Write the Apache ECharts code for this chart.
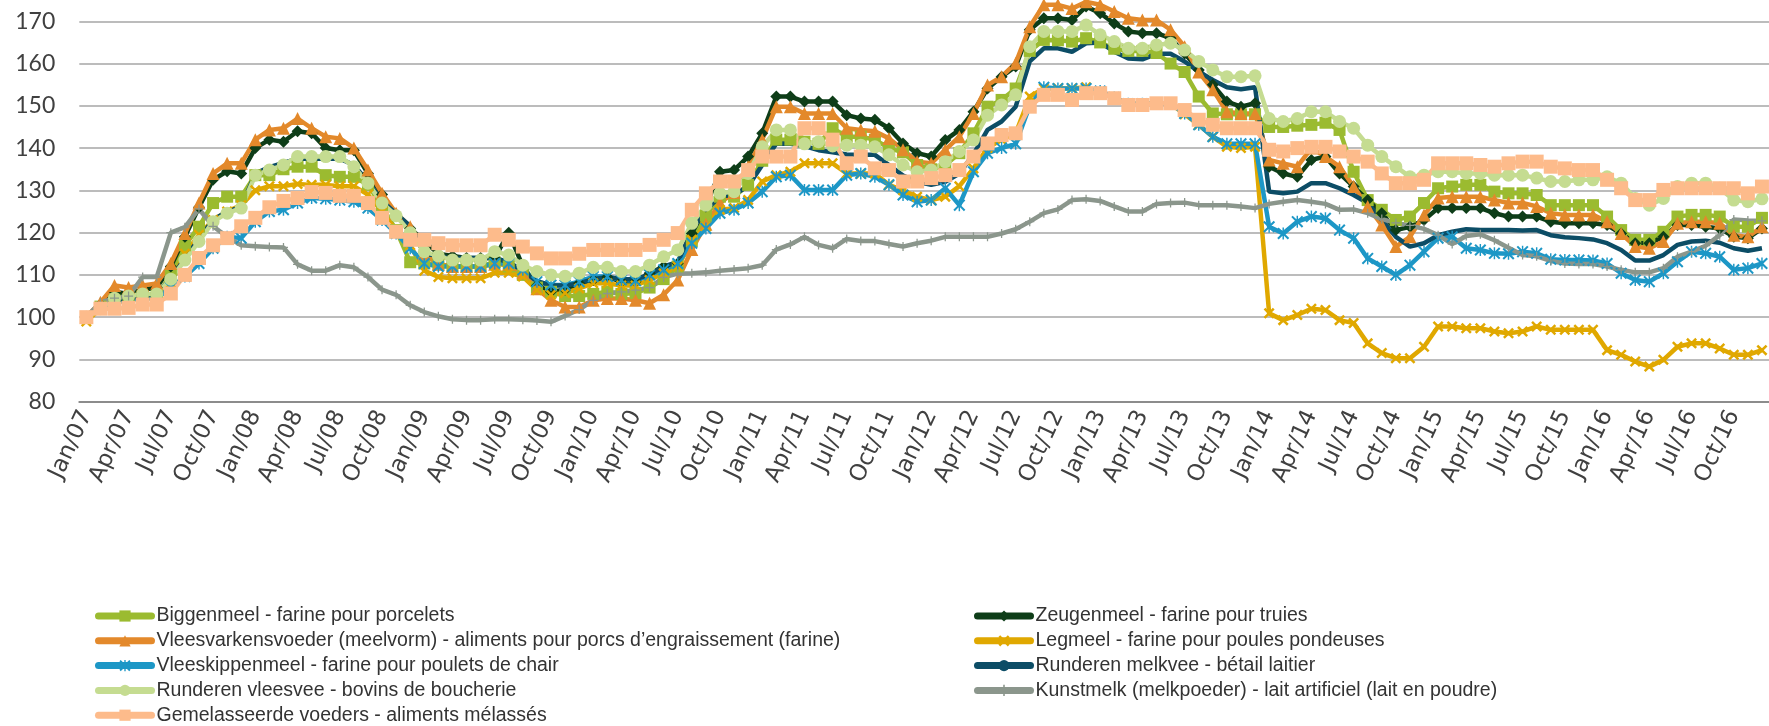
<!DOCTYPE html>
<html>
<head>
<meta charset="utf-8">
<script src="https://cdn.jsdelivr.net/npm/echarts@6/dist/echarts.min.js"></script>
<style>
  html, body { margin: 0; padding: 0; background: #fff; }
  #chart { width: 1769px; height: 726px; }
</style>
</head>
<body>
<div id="chart"></div>
<script>
// monthly categories Jan/07 .. Dec/16
var monthNames = ['Jan','Feb','Mar','Apr','May','Jun','Jul','Aug','Sep','Oct','Nov','Dec'];
var years = ['07','08','09','10','11','12','13','14','15','16'];
var categories = [];
years.forEach(function (y) {
    monthNames.forEach(function (m) { categories.push(m + '/' + y); });
});

var names = [
    'Biggenmeel - farine pour porcelets',
    'Zeugenmeel - farine pour truies',
    'Vleesvarkensvoeder (meelvorm) - aliments pour porcs d\u2019engraissement (farine)',
    'Legmeel - farine pour poules pondeuses',
    'Vleeskippenmeel - farine pour poulets de chair',
    'Runderen melkvee - bétail laitier',
    'Runderen vleesvee - bovins de boucherie',
    'Kunstmelk (melkpoeder) - lait artificiel (lait en poudre)',
    'Gemelasseerde voeders - aliments mélassés'
];

var biggenmeel = [100,102.5,104,104,105,105,110,117,121.4,127,128.5,128.5,
    133.6,133.6,135,135.6,135.6,133.6,133.2,133.2,131.3,126.2,120.6,113,
    112.7,112.5,112,112,112,113,112,110,107,106,105,105,
    105.5,106,105.5,105.7,107,109,112,118,124,128.5,128.5,131.3,
    137,142,142,141.5,141,144.7,142.7,142.7,142,140,139,136,
    135,136,138.8,143.5,149.8,151.4,154.1,163,165.6,165.5,165.2,166,
    165,163.5,163,163,162.5,160,158,152.2,148.2,148,148,148,
    145,145,145.3,145.5,146,144.3,134.4,127.7,125.4,123,123.8,127,
    130.5,130.9,131.3,131.3,129.7,129.3,129.3,128.9,126.5,126.5,126.5,126.5,
    123.8,120.6,118.3,118.3,120.2,123.8,124.2,124.2,123.8,121.4,121.4,123.5];

var zeugenmeel = [100,103,106,105.5,106.5,107,112,119,126,132.5,134.5,134,
    140,142,141.5,144,143.5,140,139.5,139.5,134,129,124,121,
    118,115,114.5,114,114,114,120,112,107.5,106,106.5,108,
    108.8,109.5,108.4,108.4,110.4,112,112.7,119.8,126.2,134.4,134.8,138,
    143.5,152.2,152.2,151,151,151,147.8,147,146.7,144.7,141.1,138.8,
    138,141.9,144.3,148.6,154.1,156.9,159.3,168,170.7,170.7,170.3,173.5,
    171.9,169.5,167.6,167.2,167.2,166,162.4,158.5,155,151,149.8,150.6,
    135.6,134,133.2,137.2,138,134,130.9,127.7,124.6,120.6,121.4,123,
    125.8,125.8,125.8,125.8,124.6,123.8,123.8,123.8,122.6,122.2,122.2,122.2,
    121.8,119.8,117.5,117.5,119,121.8,121.8,121.4,121,119,118.7,121];

var vleesvarkens = [100,103.5,107.5,107,107.5,108,112.7,119.8,127,134,136.4,136.4,
    142,144.3,144.7,147,144.7,142.7,142.3,140,134.8,129.3,124.6,121.4,
    115,112.5,112,112,112,112.5,112.5,110.5,106.7,104,102.4,102.4,
    104,104.4,104.4,104,103.3,105.3,108.8,116,122,127,129.5,135.6,
    142,149.8,149.8,148.2,148.2,148.2,144.7,144.3,144,142.3,139.6,136.8,
    136.4,139.6,142.7,148.2,154.9,156.9,160.1,168.7,173.9,173.9,173,174.6,
    173.9,172.3,170.7,170.3,170.3,168,164,158,153.8,148.6,148.2,148.2,
    137.2,136.4,135.6,140,138,135.6,130.9,126.2,121.8,116.7,119,124.2,
    128.2,128.5,128.5,128.5,127.7,127,127,126.2,124.6,124.2,124.2,124.2,
    122.6,119.8,116.7,116.3,117.9,122.2,122.6,122.6,122.2,119.4,119,121.4];

var legmeel = [99,102,103.5,104,104.5,104.5,108,115,119.5,123,125,126.5,
    130,131,131,131.5,131.3,131.3,131,131,129,125,120.5,117,
    111,109.5,109.2,109.2,109.2,110.5,110.5,109.6,106.4,105.3,105.7,106.8,
    108,108,107.5,107.5,108.8,110.4,112,118.3,121.4,125.4,125.8,127.7,
    132.1,133.6,134.4,136.4,136.4,136.4,134,134,134,131.3,130,128.5,
    127.7,128.5,131,135.2,140,142,143.5,152.2,154.1,154.1,154.1,154.4,
    153,152,150.5,150.5,150.5,150.5,148,145.5,142.7,140.3,140,140.3,
    100.9,99.3,100.5,102,101.7,99.3,98.6,93.8,91.5,90.3,90.3,93,
    97.8,97.8,97.4,97.4,96.6,96.2,96.6,97.8,97,97,97,97,
    92.2,91.1,89.5,88.3,89.9,93,93.8,93.8,92.6,91.1,91.1,92.2];

var vleeskippen = [100,102,103.5,104,104.5,104.5,107,109.6,112.7,116.3,119,118.7,
    122.6,125,125.4,127,128.2,128,127.7,127.3,125.8,123,119.8,116.3,
    112.7,112,112,112,112,112.7,112.7,111.2,108.4,107.6,107.6,108.4,
    109.6,109.6,108.8,108.6,110,111.2,112.7,117.5,121,124.6,125.4,127,
    129.7,133.2,133.6,130.1,130.1,130.1,133.6,134,133.2,131.3,128.9,127.3,
    127.7,130.5,126.5,134.4,138.8,140,141,150,154.4,154.1,154.1,154.1,
    153.5,152,150.5,150.5,150.5,150.5,148.2,145.5,142.7,141,141,141,
    121.4,119.8,122.6,123.8,123.4,120.6,118.7,113.9,112,110,112.3,115.5,
    118.7,119,116.3,115.9,115.1,115,115.5,115.1,113.7,113.5,113.5,113.4,
    112.7,110.4,108.8,108.4,110.4,113.1,115.5,115.1,114.3,111.2,111.6,112.7];

var melkvee = [100,102.5,104,104.5,105,105.5,109,114,118.5,123,125,126,
    134,135.5,136.5,137.5,137.5,137.5,137.5,136,132,127.5,124.5,121.5,
    115,114.5,114,114,114,114,113,111,108.5,107.5,107.5,108,
    109,109.5,109,109,110,112,113,120.6,125.4,128.5,129,131,
    136,141.1,141,140.5,139.5,139,138.5,138.4,138.4,136,133.5,132,
    131.3,132,134,138.5,144.3,146.3,149.8,160.5,163.6,163.6,162.8,164.8,
    165,162.8,161.2,161,162.3,162.3,160.5,158.1,156.1,154.4,153.9,154.4,
    129.7,129.3,129.7,131.7,131.7,130.5,128.9,127,123,119,116.7,117.5,
    119.4,120.2,120.8,120.6,120.6,120.6,120.5,120.6,119.4,118.9,118.7,118.4,
    117.5,115.9,113.4,113.4,114.7,117.1,117.9,118.1,117.6,116.3,115.7,116.3];

var vleesvee = [100,102,104.5,105,105.5,105.5,109,113.5,117.9,122.6,124.6,125.8,
    133.6,134.8,136,138,138,138,138,135.6,131.7,127,124,120,
    115.5,114.5,113.5,113.5,113.5,115.5,114.7,112.3,110.8,110,109.7,110.4,
    111.8,111.8,110.8,110.8,112.3,114.3,115.9,122.2,126.5,129.3,129.7,134,
    140.3,144.3,144.3,141,141.5,140.5,140.7,140.7,140.3,138.4,136,134.4,
    134.8,136.8,139.2,141.9,147.8,150.2,152.6,164,167.6,167.6,167.6,169.1,
    166.8,165.2,163.6,163.6,164.4,164.8,163.2,160.5,158.5,156.9,156.9,157.1,
    147,146.3,147,148.6,148.6,146.3,144.7,140.7,138,135.6,133.2,133.6,
    134.4,134.4,134,134,133.6,133.6,133.6,132.9,132.1,132.1,132.5,132.5,
    133.2,131.7,128.1,126.5,128.1,130.9,131.7,131.7,130.5,127.7,127.3,128];

var kunstmelk = [100,103.5,104.5,105,109.5,109.5,120,121.3,125.6,121.5,119,117,
    116.8,116.6,116.5,112.5,111,111,112.3,111.8,109.5,106.5,105.3,102.8,
    101.2,100.2,99.5,99.3,99.3,99.5,99.5,99.4,99.2,98.9,100.3,101.8,
    104,105.6,106,106.4,107,109.4,110.3,110.4,110.6,111,111.3,111.6,
    112.3,116,117.2,119,117.1,116.3,118.5,118,118,117.3,116.7,117.5,
    118.1,119,119,119,119,119.8,120.8,122.6,124.6,125.5,127.7,127.9,
    127.5,126.2,125,125,126.8,127,127.1,126.5,126.5,126.5,126.2,125.8,
    126.8,127.3,127.7,127.3,126.8,125.4,125.5,124.6,123.2,122.3,121.7,120.9,
    119.4,117.3,119.2,119.6,118.2,116.4,114.7,114.4,113.3,112.7,112.6,112.6,
    112,111.2,110.6,110.6,111.6,114.3,115.5,116.9,119.4,123.1,122.9,122.8];

var gemelasseerd = [100,102,102,102.2,103,103,105.6,110,114,117,118.7,121.5,
    123.5,126,127.5,128.2,129.6,129.4,128.7,128.7,127,123.5,120.2,118.3,
    118.3,117.5,117,117,117,119.5,118.3,116.7,115.1,113.9,113.9,115,
    115.9,115.9,115.9,115.9,117.1,118.3,119.9,125.4,129.3,132.1,132.1,134.8,
    138,138,138,144.7,144.7,142,136.4,138,135.2,134.8,132.1,132.1,
    132.9,133.6,134.8,138,141.1,143.1,143.5,149.8,152.6,152.6,151.4,153,
    153,151.8,150.2,150.2,150.6,150.6,149,146.7,145.5,144.7,144.7,144.7,
    139.6,139.2,140,140.3,140.3,139.2,138,136.8,134,131.7,131.7,132.5,
    136.4,136.4,136.4,136,135.6,136.4,136.8,136.8,135.6,135.2,134.8,134.8,
    132.5,130.5,127.7,127.7,130.1,130.5,130.5,130.5,130.5,130.5,129.3,130.9];

var yTicks = { min: 80, max: 170, step: 10 };

var SYM_X = 'path://M0,1.6L1.6,0L5,3.4L8.4,0L10,1.6L6.6,5L10,8.4L8.4,10L5,6.6L1.6,10L0,8.4L3.4,5Z';
var SYM_STAR = 'path://M0,1.2L1.2,0L5,3.8L8.8,0L10,1.2L6.2,5L10,8.8L8.8,10L5,6.2L1.2,10L0,8.8L3.8,5Z M4.4,0L5.6,0L5.6,10L4.4,10Z';
var SYM_PLUS = 'path://M4.3,0H5.7V4.3H10V5.7H5.7V10H4.3V5.7H0V4.3H4.3Z';

var looks = [
    { data: biggenmeel,   color: '#9bbb30', symbol: 'rect',     size: 12 },
    { data: zeugenmeel,   color: '#0e3d18', symbol: 'diamond',  size: 12 },
    { data: vleesvarkens, color: '#e3892b', symbol: 'triangle', size: 13 },
    { data: legmeel,      color: '#e0a800', symbol: SYM_X,      size: 11 },
    { data: vleeskippen,  color: '#1d97c6', symbol: SYM_STAR,   size: 12 },
    { data: melkvee,      color: '#0c4d66', symbol: 'none',     size: 0 },
    { data: vleesvee,     color: '#c5dc91', symbol: 'circle',   size: 13 },
    { data: kunstmelk,    color: '#8b968c', symbol: SYM_PLUS,   size: 9 },
    { data: gemelasseerd, color: '#fdbb8b', symbol: 'rect',     size: 14 }
];

var series = looks.map(function (s, i) {
    return {
        name: names[i],
        type: 'line',
        data: s.data,
        clip: false,
        symbol: s.symbol,
        symbolSize: s.size,
        showSymbol: s.symbol !== 'none',
        showAllSymbol: true,
        lineStyle: { color: s.color, width: 4.5 },
        itemStyle: { color: s.color },
        emphasis: { disabled: true }
    };
});

var legendText = { fontSize: 19.5, fontFamily: '"Liberation Sans Narrow", "Liberation Sans", sans-serif', color: '#333333', lineHeight: 20 };

var chartDom = document.getElementById('chart');
var myChart = echarts.init(chartDom);
var option;

option = {
    animation: false,
    backgroundColor: '#ffffff',
    grid: { left: 79.3, top: 21.3, width: 1700.4, height: 380.4 },
    legend: [
        {
            data: [names[0], names[2], names[4], names[6], names[8]],
            orient: 'vertical', left: 95, top: 606, padding: 0,
            itemWidth: 53, itemHeight: 14, itemGap: 4.8,
            lineStyle: { width: 7, cap: 'round' },
            textStyle: legendText
        },
        {
            data: [names[1], names[3], names[5], names[7]],
            orient: 'vertical', left: 974, top: 606, padding: 0,
            itemWidth: 53, itemHeight: 14, itemGap: 4.8,
            lineStyle: { width: 7, cap: 'round' },
            textStyle: legendText
        }
    ],
    xAxis: {
        type: 'category',
        data: categories,
        boundaryGap: true,
        axisLine: { lineStyle: { color: '#8c8c8c', width: 2 } },
        axisTick: {
            inside: true, length: 6,
            interval: function (i) { return i % 3 === 0; },
            lineStyle: { color: '#8c8c8c', width: 1.5 }
        },
        axisLabel: {
            interval: function (i) { return i % 3 === 0; },
            rotate: 65, margin: 10,
            fontSize: 23, fontFamily: '"DejaVu Sans", sans-serif', color: '#404040'
        },
        splitLine: { show: false }
    },
    yAxis: {
        type: 'value',
        min: yTicks.min, max: yTicks.max, interval: yTicks.step,
        axisLine: { show: false },
        axisTick: { show: false },
        axisLabel: { fontSize: 23, fontFamily: 'Lato, sans-serif', color: '#404040', margin: 24 },
        splitLine: { lineStyle: { color: '#a6a6a6', width: 1.5 } }
    },
    series: series
};

option && myChart.setOption(option);
</script>
</body>
</html>
